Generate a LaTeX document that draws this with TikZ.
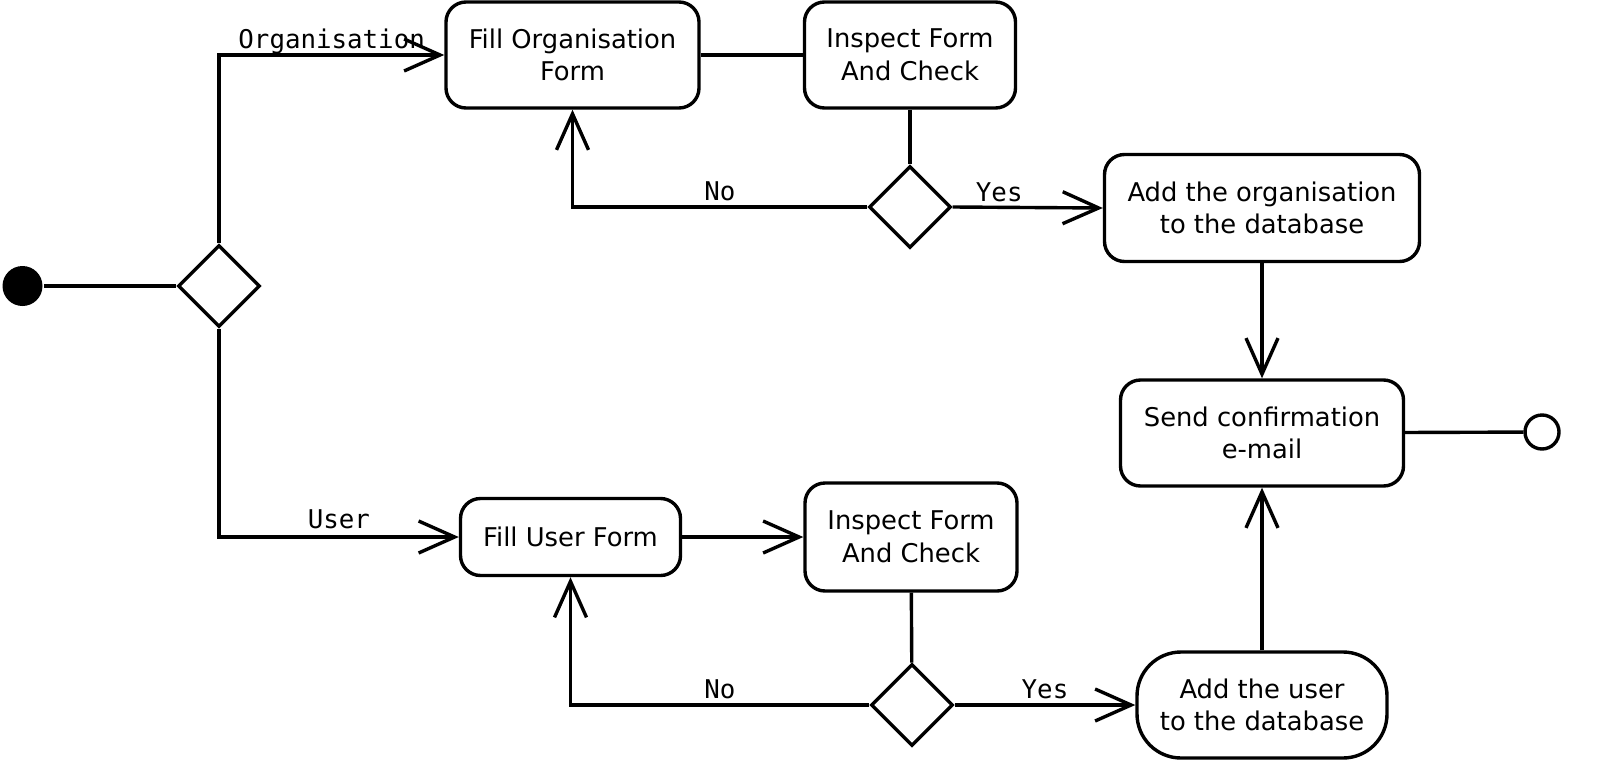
\documentclass[tikz,border=0pt]{standalone}
\usepackage{fontspec}
\setmainfont{DejaVu Sans}
\setmonofont{DejaVu Sans Mono}
\usepackage{tikz}
\usetikzlibrary{arrows.meta,shapes.geometric,positioning}

\begin{document}
\begin{tikzpicture}[x=0.5pt, y=-0.5pt, line width=1.7pt,
  >={Straight Barb[length=18pt,width=16pt]},
  font=\fontsize{12.9}{16.3}\selectfont,
  activity/.style={draw, rectangle, rounded corners=10pt, align=center, inner sep=0pt},
  decision/.style={draw, diamond, minimum width=41pt, minimum height=41pt, inner sep=0pt},
  guard/.style={font=\ttfamily\fontsize{12.9}{16.3}\selectfont, inner sep=2pt}]
% pixel grid: 1 unit = 1 px of the 1600x760 picture
\useasboundingbox (0,0) rectangle (1600,760);
\node[circle, fill, minimum size=20pt, inner sep=0pt] (start) at (22.5,286) {};
\node[decision] (choice) at (219,286) {};
% organisation branch
\node[activity, minimum width=126.5pt, minimum height=53pt] (orgform) at (572.5,55) {Fill Organisation\\Form};
\node[activity, minimum width=105.5pt, minimum height=53pt] (orgcheck) at (910,55) {Inspect Form\\And Check};
\node[decision] (orgok) at (910,207) {};
\node[activity, minimum width=157.5pt, minimum height=53.5pt] (orgadd) at (1262,208) {Add the organisation\\to the database};
% user branch
\node[activity, minimum width=110pt, minimum height=38.5pt] (userform) at (570.5,537) {Fill User Form};
\node[activity, minimum width=106pt, minimum height=54pt] (usercheck) at (911,537) {Inspect Form\\And Check};
\node[decision] (userok) at (912,705) {};
\node[activity, rounded corners=22pt, minimum width=125pt, minimum height=53pt] (useradd) at (1262,705) {Add the user\\to the database};
% end
\node[activity, minimum width=141.5pt, minimum height=53pt] (mail) at (1262,433) {Send confirmation\\e-mail};
\node[circle, draw, minimum size=17pt, inner sep=0pt] (finish) at (1542,432) {};

\draw (start) -- (choice);
\draw[->] (choice.north) |- (orgform.west) node[guard, pos=0.75, above, yshift=-2.5pt] {Organisation};
\draw (orgform) -- (orgcheck);
\draw (orgcheck) -- (orgok);
\draw[->] (orgok.west) -| (orgform.south) node[guard, pos=0.25, above] {No};
\draw[->] (orgok.east) -- (orgadd.west) node[guard, pos=0.31, above] {Yes};
\draw[->] (orgadd) -- (mail);
\draw[->] (choice.south) |- (userform.west) node[guard, pos=0.75, above, yshift=1pt] {User};
\draw[->] (userform) -- (usercheck);
\draw (usercheck) -- (userok);
\draw[->] (userok.west) -| (userform.south) node[guard, pos=0.25, above] {No};
\draw[->] (userok.east) -- (useradd.west) node[guard, pos=0.5, above] {Yes};
\draw[->] (useradd) -- (mail);
\draw (mail) -- (finish);
\end{tikzpicture}
\end{document}
